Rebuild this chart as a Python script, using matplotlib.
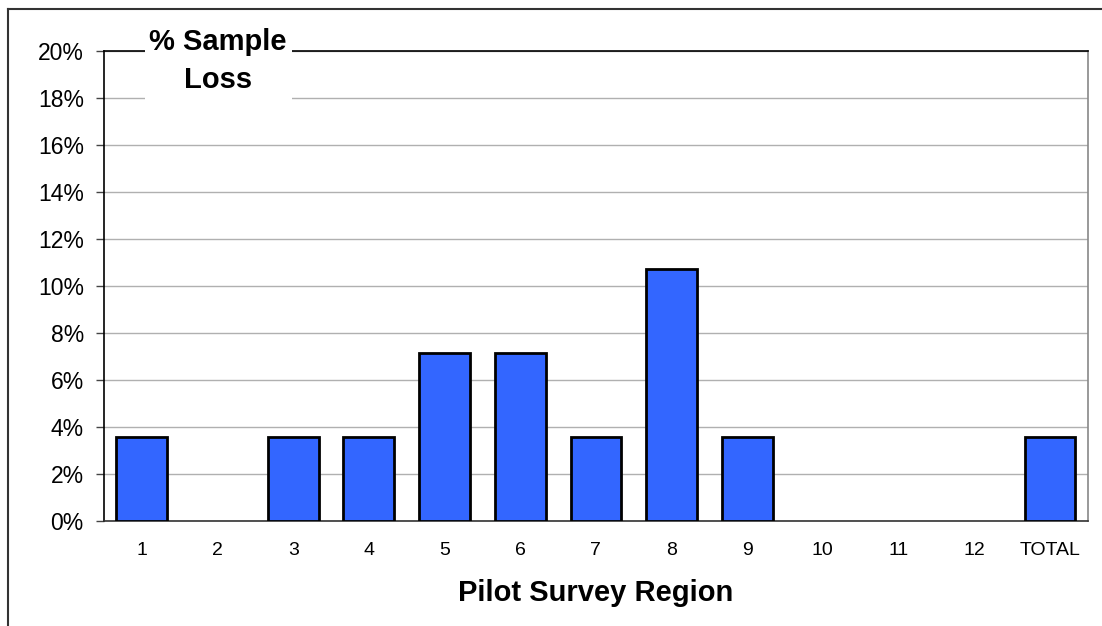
import numpy as np
import matplotlib.pyplot as plt
from matplotlib.lines import Line2D
from matplotlib.patches import Rectangle

plt.rcParams['font.family'] = ['Liberation Sans', 'DejaVu Sans']

regions = ["1", "2", "3", "4", "5", "6", "7", "8", "9", "10", "11", "12", "TOTAL"]
loss_pct = [3.57, 0.0, 3.57, 3.57, 7.14, 7.14, 3.57, 10.71, 3.57, 0.0, 0.0, 0.0, 3.57]
y_ticks = [0, 2, 4, 6, 8, 10, 12, 14, 16, 18, 20]

W, H = 1102, 626
fig = plt.figure(figsize=(W / 100, H / 100), dpi=100)
ax = fig.add_axes([104 / W, 1 - 520.7 / H, (1087.7 - 104) / W, (520.7 - 50.7) / H])

x = np.arange(len(regions))
bars = ax.bar(x, loss_pct, width=0.67, color="#3366ff", edgecolor="black", linewidth=2, zorder=3)
# empty regions draw nothing
for b, v in zip(bars, loss_pct):
    if v == 0:
        b.set_visible(False)

ax.set_xlim(-0.5, len(regions) - 0.5)
ax.set_ylim(0, 20)
ax.set_yticks(y_ticks)
ax.set_yticklabels(["{}%".format(t) for t in y_ticks], fontsize=16.5)
ax.set_xticks(x)
ax.set_xticklabels(regions, fontsize=14)
ax.tick_params(axis="x", length=0, pad=15)
ax.tick_params(axis="y", length=5.5, width=1, direction="out", color="#444444", pad=9)
ax.yaxis.grid(True, color="#b0b0b0", linewidth=1, zorder=0)

ax.spines["top"].set_color("black")
ax.spines["left"].set_color("black")
ax.spines["bottom"].set_color("#333333")
ax.spines["right"].set_color("#888888")
for s in ax.spines.values():
    s.set_linewidth(1.2)

ax.set_xlabel("Pilot Survey Region", fontsize=21, fontweight="bold", labelpad=15)

# white block behind the title, hiding the gridlines
ax.add_patch(Rectangle((145 / W, 1 - 101 / H), 147 / W, 80 / H, transform=fig.transFigure,
                       facecolor="white", edgecolor="none", clip_on=False, zorder=4))
fig.text(218 / W, 1 - 61 / H, "% Sample\nLoss", ha="center", va="center",
         fontsize=21, fontweight="bold", linespacing=1.48, zorder=5)

# partial outer frame (top and left edges)
fig.add_artist(Line2D([8 / W, 1.0], [1 - 9 / H, 1 - 9 / H], color="#333333", linewidth=1.5))
fig.add_artist(Line2D([8 / W, 8 / W], [0.0, 1 - 9 / H], color="#333333", linewidth=1.5))

plt.savefig("out.png", dpi=100)
